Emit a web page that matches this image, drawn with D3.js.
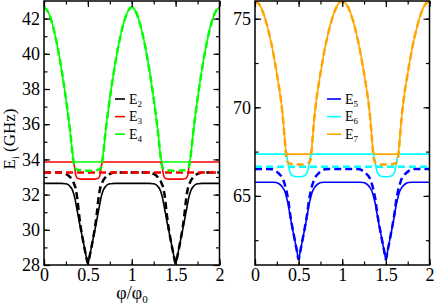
<!DOCTYPE html>
<html>
<head>
<meta charset="utf-8">
<script src="https://cdn.jsdelivr.net/npm/d3@7"></script>
<style>
  body { margin: 0; background: #fff; }
  svg text { font-family: "Liberation Serif", "Times New Roman", "DejaVu Serif", serif !important; }
</style>
</head>
<body>
<svg id="chart" width="436" height="306"></svg>
<script>
// flux grid for one half period (0 .. 0.5), curves are symmetric about 0.5 and periodic in 1
const phi = [0, 0.05, 0.1, 0.15, 0.2, 0.24, 0.27, 0.3, 0.32, 0.33, 0.34, 0.35, 0.36, 0.37, 0.38, 0.4, 0.42, 0.44, 0.46, 0.48, 0.5];

// left panel (GHz)
const E2 = [32.64, 32.64, 32.64, 32.64, 32.64, 32.62, 32.58, 32.45, 32.3, 32.18, 32.02, 31.83, 31.58, 31.3, 31.05, 30.5, 30.0, 29.5, 29.0, 28.5, 28.1];
const E2d = [33.25, 33.25, 33.25, 33.25, 33.25, 33.2, 33.12, 32.98, 32.85, 32.76, 32.65, 32.52, 32.36, 32.1, 31.75, 30.85, 30.1, 29.52, 29.0, 28.5, 28.1];
const E3 = [33.85, 33.85, 33.85, 33.85, 33.85, 33.85, 33.85, 33.85, 33.85, 33.84, 33.78, 33.5, 33.15, 33.0, 32.94, 32.9, 32.88, 32.88, 32.88, 32.88, 32.88];
const E3d = [33.25, 33.25, 33.25, 33.25, 33.25, 33.25, 33.25, 33.25, 33.25, 33.25, 33.25, 33.25, 33.25, 33.25, 33.25, 33.25, 33.25, 33.25, 33.25, 33.25, 33.25];
const E4 = [42.65, 42.35, 41.6, 40.5, 39.1, 37.8, 36.7, 35.5, 34.55, 34.15, 33.92, 33.86, 33.85, 33.85, 33.85, 33.85, 33.85, 33.85, 33.85, 33.85, 33.85];
const E4d = [42.65, 42.35, 41.6, 40.5, 39.1, 37.8, 36.7, 35.5, 34.55, 34.1, 33.75, 33.55, 33.47, 33.43, 33.41, 33.39, 33.38, 33.37, 33.36, 33.36, 33.36];

// right panel (GHz)
const E5 = [65.77, 65.77, 65.77, 65.77, 65.77, 65.76, 65.7, 65.58, 65.45, 65.37, 65.28, 65.12, 64.94, 64.74, 64.52, 63.95, 63.4, 62.9, 62.4, 61.9, 61.42];
const E5d = [66.52, 66.52, 66.52, 66.52, 66.5, 66.4, 66.28, 66.12, 65.95, 65.82, 65.66, 65.5, 65.3, 65.05, 64.8, 64.05, 63.45, 62.92, 62.4, 61.9, 61.42];
const E6 = [67.36, 67.36, 67.36, 67.36, 67.36, 67.36, 67.36, 67.36, 67.36, 67.36, 67.36, 67.35, 67.3, 67.1, 66.8, 66.35, 66.18, 66.12, 66.09, 66.08, 66.08];
const E6d = [66.65, 66.65, 66.65, 66.65, 66.65, 66.65, 66.65, 66.65, 66.65, 66.65, 66.65, 66.65, 66.65, 66.65, 66.65, 66.65, 66.65, 66.65, 66.65, 66.65, 66.65];
const E7 = [76.0, 75.8, 75.25, 74.4, 73.3, 72.2, 71.3, 70.3, 69.4, 68.85, 68.25, 67.7, 67.42, 67.37, 67.36, 67.36, 67.36, 67.36, 67.36, 67.36, 67.36];
const E7d = [76.0, 75.8, 75.25, 74.4, 73.3, 72.2, 71.3, 70.3, 69.4, 68.85, 68.25, 67.6, 67.15, 66.95, 66.88, 66.83, 66.8, 66.78, 66.77, 66.77, 66.77];

const xTicks = [0, 0.5, 1, 1.5, 2];
const leftYTicks = [28, 30, 32, 34, 36, 38, 40, 42];
const rightYTicks = [65, 70, 75];

const serif = '"Liberation Serif", "Times New Roman", "DejaVu Serif", serif';
const svg = d3.select('#chart');

// unfold half period into 0..2
const unfold = vals => {
  const pts = [];
  [0, 1].forEach(p => {
    phi.forEach((f, i) => pts.push([p + f, vals[i]]));
    for (let i = phi.length - 2; i >= 0; i--) pts.push([p + 1 - phi[i], vals[i]]);
  });
  return pts.filter((d, i, a) => i === 0 || d[0] !== a[i - 1][0]);
};

const drawPanel = (cfg) => {
  const x = d3.scaleLinear().domain([0, 2]).range(cfg.xr);
  const y = d3.scaleLinear().domain(cfg.yd).range([265, 1]);
  const g = svg.append('g');

  const line = d3.line()
    .x(d => x(d[0]))
    .y(d => y(d[1]))
    .curve(d3.curveMonotoneX);

  const clipId = 'clip' + cfg.id;
  svg.append('clipPath').attr('id', clipId)
    .append('rect').attr('x', cfg.xr[0]).attr('y', 1)
    .attr('width', cfg.xr[1] - cfg.xr[0]).attr('height', 264);

  const lines = g.append('g').attr('clip-path', `url(#${clipId})`);
  cfg.series.forEach(s => {
    lines.append('path')
      .datum(unfold(s.vals))
      .attr('fill', 'none')
      .attr('stroke', s.color)
      .attr('stroke-width', s.dash ? 2.5 : 1.6)
      .attr('stroke-dasharray', s.dash ? '7,4' : null)
      .attr('d', line);
  });

  // axes, ticks pointing inwards on all four sides
  const xMinor = d3.range(0, 2.01, 0.25);
  const yMinor = d3.range(cfg.yd[0], cfg.yd[1], cfg.minor).map(v => Math.ceil(v / cfg.minor) * cfg.minor)
    .filter(v => v >= cfg.yd[0] && v <= cfg.yd[1]);

  const axes = [
    [d3.axisBottom(x).tickValues(xTicks).tickFormat(d3.format('')).tickSize(-6).tickPadding(3), `translate(0,265)`],
    [d3.axisTop(x).tickValues(xTicks).tickFormat('').tickSize(-6), `translate(0,1)`],
    [d3.axisBottom(x).tickValues(xMinor).tickFormat('').tickSize(-3.5), `translate(0,265)`],
    [d3.axisTop(x).tickValues(xMinor).tickFormat('').tickSize(-3.5), `translate(0,1)`],
    [d3.axisLeft(y).tickValues(cfg.yTicks).tickFormat(d3.format('')).tickSize(-6).tickPadding(4), `translate(${cfg.xr[0]},0)`],
    [d3.axisRight(y).tickValues(cfg.yTicks).tickFormat('').tickSize(-6), `translate(${cfg.xr[1]},0)`],
    [d3.axisLeft(y).tickValues(yMinor).tickFormat('').tickSize(-3.5), `translate(${cfg.xr[0]},0)`],
    [d3.axisRight(y).tickValues(yMinor).tickFormat('').tickSize(-3.5), `translate(${cfg.xr[1]},0)`]
  ];
  axes.forEach(([ax, tr]) => {
    const a = g.append('g').attr('transform', tr).call(ax)
      .attr('font-family', serif).attr('font-size', 18);
    a.select('.domain').remove();
    a.selectAll('line').attr('stroke', '#000').attr('stroke-width', 1.2);
    a.selectAll('text').attr('fill', '#000');
  });

  g.append('rect')
    .attr('x', cfg.xr[0]).attr('y', 1)
    .attr('width', cfg.xr[1] - cfg.xr[0]).attr('height', 264)
    .attr('fill', 'none').attr('stroke', '#000').attr('stroke-width', 1.5);

  // legend
  const lg = g.append('g');
  cfg.legend.forEach((l, i) => {
    const ly = 99 + i * 17.6;
    lg.append('line')
      .attr('x1', cfg.legX[0]).attr('x2', cfg.legX[1])
      .attr('y1', ly).attr('y2', ly)
      .attr('stroke', l.color).attr('stroke-width', 1.6);
    const t = lg.append('text')
      .attr('x', cfg.legX[1] + 4).attr('y', ly + 4.5)
      .attr('font-family', serif)
      .attr('font-size', 14);
    t.append('tspan').text('E');
    t.append('tspan').attr('dy', 3).attr('font-size', 9).text(l.sub);
  });
};

drawPanel({
  id: 'L', xr: [44, 219.5], yd: [28, 43], yTicks: leftYTicks, minor: 1,
  legX: [115, 125],
  series: [
    { vals: E2, color: '#000000' }, { vals: E3, color: '#ff0000' }, { vals: E4, color: '#00ff00' },
    { vals: E2d, color: '#000000', dash: true }, { vals: E3d, color: '#ff0000', dash: true }, { vals: E4d, color: '#00ff00', dash: true }
  ],
  legend: [{ sub: '2', color: '#000000' }, { sub: '3', color: '#ff0000' }, { sub: '4', color: '#00ff00' }]
});

drawPanel({
  id: 'R', xr: [255, 429.5], yd: [61.1, 76], yTicks: rightYTicks, minor: 2.5,
  legX: [327, 341],
  series: [
    { vals: E5, color: '#0000ff' }, { vals: E6, color: '#00ffff' }, { vals: E7, color: '#ffa500' },
    { vals: E5d, color: '#0000ff', dash: true }, { vals: E6d, color: '#00ffff', dash: true }, { vals: E7d, color: '#ffa500', dash: true }
  ],
  legend: [{ sub: '5', color: '#0000ff' }, { sub: '6', color: '#00ffff' }, { sub: '7', color: '#ffa500' }]
});

// axis titles
const yt = svg.append('text')
  .attr('transform', 'translate(15,139) rotate(-90)')
  .attr('text-anchor', 'middle')
  .attr('font-family', serif)
  .attr('font-size', 17);
yt.append('tspan').text('E');
yt.append('tspan').attr('dy', 4).attr('font-size', 10).text('i');
yt.append('tspan').attr('dy', -4).text(' (GHz)');

const xt = svg.append('text')
  .attr('x', 132).attr('y', 299)
  .attr('text-anchor', 'middle')
  .attr('font-family', serif)
  .attr('font-size', 18);
xt.append('tspan').text('φ/φ');
xt.append('tspan').attr('dy', 4).attr('font-size', 11).text('0');
</script>
</body>
</html>
